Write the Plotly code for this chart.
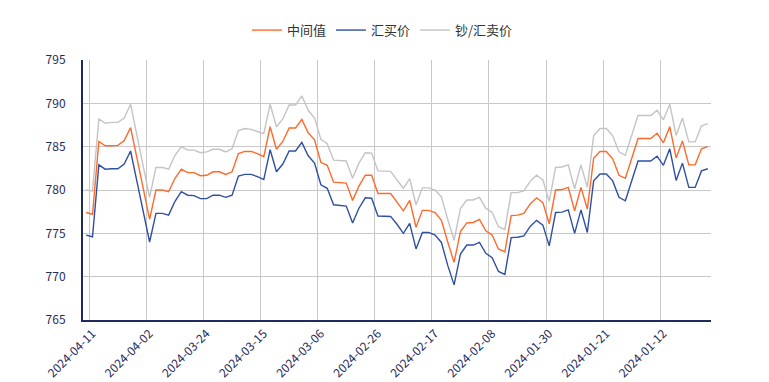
import plotly.graph_objects as go
import pandas as pd

# Categories: calendar days from 2024-04-11 back to 2024-01-04 (99 days, newest first)
dates = [d.strftime("%Y-%m-%d") for d in pd.date_range("2024-01-04", "2024-04-11", freq="D")[::-1]]

tick_labels = ["2024-04-11", "2024-04-02", "2024-03-24", "2024-03-15", "2024-03-06",
               "2024-02-26", "2024-02-17", "2024-02-08", "2024-01-30", "2024-01-21",
               "2024-01-12"]

y_ticks = [765, 770, 775, 780, 785, 790, 795]

mid = [777.4, 777.2, 785.6, 785.1, 785.1, 785.15, 785.7, 787.2, 783.7, 780.1,
       776.6, 780.0, 780.0, 779.8, 781.35, 782.4, 782.0, 782.0, 781.65, 781.7,
       782.1, 782.1, 781.8, 782.1, 784.2, 784.45, 784.45, 784.2, 783.85, 787.3,
       784.7, 785.6, 787.15, 787.15, 788.15, 786.6, 785.8, 783.2, 782.85, 780.9,
       780.85, 780.8, 778.8, 780.45, 781.7, 781.7, 779.6, 779.6, 779.6, 778.6,
       777.6, 778.8, 775.7, 777.65, 777.65, 777.4, 776.5, 774.0, 771.65, 775.2,
       776.2, 776.25, 776.6, 775.3, 774.8, 773.2, 772.85, 777.05, 777.1, 777.3,
       778.4, 779.1, 778.55, 776.1, 780.0, 780.05, 780.3, 777.6, 780.3, 777.8,
       783.65, 784.45, 784.45, 783.6, 781.7, 781.35, 783.65, 785.95, 785.95, 785.95,
       786.55, 785.45, 787.3, 783.7, 785.65, 782.9, 782.9, 784.75, 785.0]

buy = [774.8, 774.6, 782.9, 782.4, 782.45, 782.45, 783.0, 784.5, 781.0, 777.5,
       774.0, 777.3, 777.3, 777.1, 778.7, 779.8, 779.4, 779.35, 779.0, 779.0,
       779.4, 779.4, 779.15, 779.4, 781.6, 781.8, 781.8, 781.55, 781.2, 784.65,
       782.1, 783.0, 784.5, 784.5, 785.5, 783.95, 783.1, 780.6, 780.2, 778.3,
       778.25, 778.15, 776.2, 777.9, 779.1, 779.05, 777.0, 777.0, 776.95, 776.05,
       775.0, 776.15, 773.2, 775.1, 775.1, 774.8, 773.95, 771.3, 769.05, 772.6,
       773.65, 773.65, 773.95, 772.7, 772.2, 770.6, 770.25, 774.5, 774.55, 774.7,
       775.8, 776.5, 775.95, 773.55, 777.4, 777.45, 777.7, 775.0, 777.7, 775.1,
       781.05, 781.85, 781.85, 781.05, 779.15, 778.75, 781.05, 783.35, 783.35, 783.35,
       783.9, 782.85, 784.75, 781.1, 783.1, 780.3, 780.3, 782.2, 782.45]

sell = [780.0, 779.9, 788.2, 787.7, 787.8, 787.8, 788.3, 789.9, 786.3, 782.7,
        779.15, 782.6, 782.6, 782.4, 784.0, 785.0, 784.6, 784.6, 784.3, 784.4,
        784.7, 784.7, 784.4, 784.75, 786.85, 787.1, 787.0, 786.75, 786.5, 789.9,
        787.3, 788.2, 789.8, 789.8, 790.85, 789.2, 788.3, 785.85, 785.35, 783.45,
        783.4, 783.35, 781.35, 783.1, 784.3, 784.25, 782.2, 782.2, 782.15, 781.15,
        780.2, 781.3, 778.3, 780.25, 780.25, 780.0, 779.2, 776.6, 774.2, 777.85,
        778.85, 778.85, 779.15, 777.9, 777.4, 775.75, 775.45, 779.7, 779.7, 779.9,
        781.0, 781.7, 781.15, 778.7, 782.6, 782.65, 782.9, 780.15, 782.9, 780.3,
        786.25, 787.1, 787.1, 786.25, 784.4, 784.0, 786.3, 788.6, 788.6, 788.6,
        789.2, 788.1, 789.9, 786.3, 788.3, 785.55, 785.55, 787.4, 787.65]

series = [("中间值", mid, "#FF6A2B"), ("汇买价", buy, "#2E4FA3"), ("钞/汇卖价", sell, "#C4C4C4")]

NAVY = "#1F2B5B"
FONT = "Noto Sans CJK SC, Noto Sans, sans-serif"

fig = go.Figure()
for name, vals, color in series:
    fig.add_trace(go.Scatter(x=dates, y=vals, name=name, mode="lines",
                             line=dict(color=color, width=1.4)))

# grid lines sit on the category band boundary just after each labelled day
half_day = pd.Timedelta(hours=12)
edge_day = pd.Timedelta(hours=9)
grid_pos = [(pd.Timestamp(t) - half_day).strftime("%Y-%m-%d %H:%M") for t in tick_labels]
grid_pos.append((pd.Timestamp(dates[-1]) - edge_day).strftime("%Y-%m-%d %H:%M"))
grid_text = tick_labels + [""]
x_range = [(pd.Timestamp(dates[0]) + half_day).strftime("%Y-%m-%d %H:%M"),
           (pd.Timestamp(dates[-1]) - half_day).strftime("%Y-%m-%d %H:%M")]

fig.update_layout(
    width=761, height=374,
    margin=dict(l=75, r=58, t=52, b=62, autoexpand=False),
    paper_bgcolor="white", plot_bgcolor="white",
    font=dict(family=FONT, color="#333333"),
    showlegend=True,
    legend=dict(orientation="h", xref="container", yref="container",
                x=0.492, xanchor="center", y=0.981, yanchor="top",
                font=dict(size=13, color="#333333"), itemwidth=30,
                bgcolor="rgba(0,0,0,0)"),
    xaxis=dict(
        type="date", range=x_range, automargin=False,
        tickmode="array", tickvals=grid_pos, ticktext=grid_text, tickangle=-45,
        ticklabelshift=-3,
        tickfont=dict(size=12, color=NAVY, family=FONT),
        showgrid=True, gridcolor="#C8C8C8", gridwidth=1, ticks="",
        showline=True, linecolor=NAVY, linewidth=2,
        zeroline=False,
    ),
    yaxis=dict(
        range=[765, 795], tickvals=y_ticks, automargin=False,
        tickfont=dict(size=12, color=NAVY, family=FONT),
        showgrid=True, gridcolor="#C8C8C8", gridwidth=1,
        showline=True, linecolor=NAVY, linewidth=2,
        ticks="", ticklabelstandoff=13, zeroline=False,
    ),
)

fig.write_html("out.html")
